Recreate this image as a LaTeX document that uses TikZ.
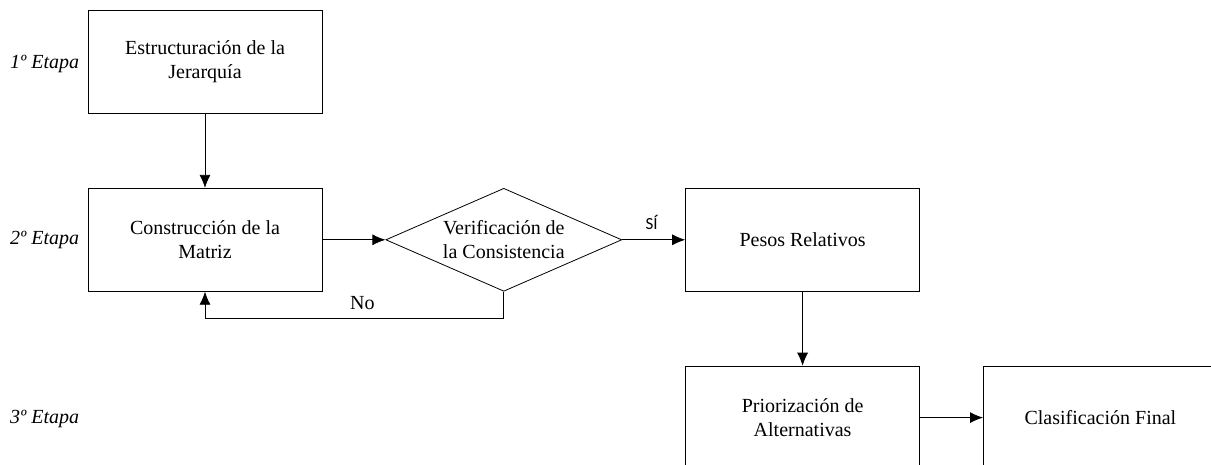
\documentclass[tikz,border=0pt]{standalone}
\usepackage{fontspec}
\setmainfont{Liberation Serif}
\newfontfamily\yesfont{Carlito}
\usetikzlibrary{arrows.meta}
\usetikzlibrary{positioning,shapes.geometric}

\begin{document}
\begin{tikzpicture}[
x=1pt, y=1pt,
node distance=74pt and 63pt,
StepBox/.style={draw=black, line width=0.8pt, minimum width=234pt, minimum height=103pt, inner sep=0pt, align=center, font=\fontsize{20}{24}\selectfont},
Check/.style={diamond, draw=black, line width=0.8pt, aspect=2.3, minimum width=236pt, minimum height=103pt, inner sep=0pt, align=center, font=\fontsize{20}{24}\selectfont},
Stage/.style={anchor=base west, inner sep=0pt, font=\fontsize{20}{24}\selectfont\itshape},
Answer/.style={anchor=base, inner sep=0pt},
Flow/.style={-{Latex[length=13pt, width=11pt]}, line width=0.8pt}
]
\useasboundingbox (0,0) rectangle (1211,-465);
\clip (0,0) rectangle (1211,-465);

% stages
\node [Stage] (stage1) at (10,-68.5) {1º Etapa};
\node [Stage] (stage2) at (10,-245) {2º Etapa};
\node [Stage] (stage3) at (10,-423) {3º Etapa};

% boxes
\node [StepBox] (jerarquia) at (205,-62) {Estructuración de la\\Jerarquía};
\node [StepBox, below=of jerarquia] (matriz) {Construcción de la\\Matriz};
\node [Check, right=of matriz] (consist) {Verificación de\\la Consistencia};
\node [StepBox, right=of consist] (pesos) {Pesos Relativos};
\node [StepBox, below=of pesos] (prior) {Priorización de\\Alternativas};
\node [StepBox, right=of prior] (final) {Clasificación Final};

\coordinate (back) at ([yshift=-27pt]consist.south);

\draw [Flow] (jerarquia) -- (matriz);
\draw [Flow] (matriz) -- (consist);
\draw [Flow] (consist) -- node[Answer, yshift=10pt, xshift=-2pt, font=\yesfont\fontsize{17}{20}\selectfont] {SÍ} (pesos);
\draw [Flow] (consist.south) -- (back) -| node[Answer, pos=0.25, yshift=9pt, xshift=8pt, font=\fontsize{20}{24}\selectfont] {No} (matriz.south);
\draw [Flow] (pesos) -- (prior);
\draw [Flow] (prior) -- (final);

\end{tikzpicture}
\end{document}
